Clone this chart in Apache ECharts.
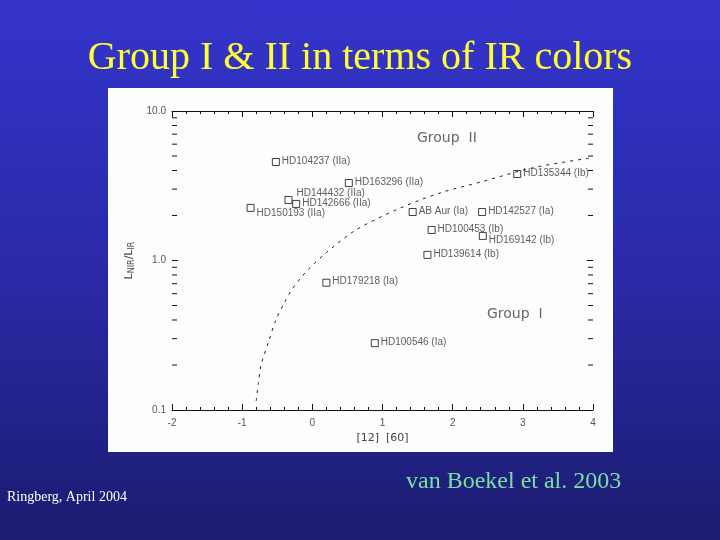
<!DOCTYPE html>
<html>
<head>
<meta charset="utf-8">
<script src="https://cdn.jsdelivr.net/npm/echarts@6/dist/echarts.min.js"></script>
<style>
html,body{margin:0;padding:0;}
body{width:720px;height:540px;background:linear-gradient(180deg,#3434cc 0%,#2a2aa8 50%,#1c1c70 100%);}
#c{width:720px;height:540px;}
</style>
</head>
<body>
<div id="c"></div>
<script>
// ---- data ----
const starNames = ["HD104237 (IIa)","HD163296 (IIa)","HD144432 (IIa)","HD142666 (IIa)","HD150193 (IIa)","AB Aur (Ia)","HD142527 (Ia)","HD135344 (Ib)","HD100453 (Ib)","HD169142 (Ib)","HD139614 (Ib)","HD179218 (Ia)","HD100546 (Ia)"];
const starColor = [-0.52, 0.52, -0.34, -0.23, -0.88, 1.43, 2.42, 2.92, 1.70, 2.43, 1.64, 0.20, 0.89];   // [12]-[60]
const starRatio = [4.56, 3.30, 2.54, 2.39, 2.25, 2.11, 2.11, 3.79, 1.60, 1.46, 1.09, 0.71, 0.28];       // L_NIR/L_IR
const curveX = [-0.80, -0.77, -0.73, -0.62, -0.52, -0.40, -0.30, -0.18, -0.07, 0.20, 0.63, 1.25, 1.82, 2.43, 3.14, 3.95];
const curveY = [0.115, 0.15, 0.20, 0.29, 0.40, 0.52, 0.63, 0.75, 0.86, 1.13, 1.61, 2.24, 2.83, 3.38, 4.17, 4.84];
const xTicks = [-2, -1, 0, 1, 2, 3, 4];
const yTicks = [0.1, 1.0, 10.0];
const yMinorTicks = [0.2, 0.3, 0.4, 0.5, 0.6, 0.7, 0.8, 0.9, 2, 3, 4, 5, 6, 7, 8, 9];

// label placement tweaks (style only)
const labelOffsets = {
  "HD144432 (IIa)": [2, -7],
  "HD150193 (IIa)": [0, 5],
  "HD169142 (Ib)": [0, 4]
};

const chart = echarts.init(document.getElementById('c'), null, {renderer:'canvas'});
const tickFont = {fontFamily:'Liberation Sans', fontSize:10, color:'#555'};

const scatterData = starNames.map((n,i)=>({
  name:n, value:[starColor[i], starRatio[i]],
  label:{offset: labelOffsets[n] || [0,-1]}
}));

const tickLine = {color:'#111', width:1};
const xMin = xTicks[0], xMax = xTicks[xTicks.length-1];

chart.setOption({
  backgroundColor:'transparent',
  animation:false,
  title:{
    text:'Group I & II in terms of IR colors',
    left:'center', top:33,
    textStyle:{fontFamily:'Liberation Serif', fontSize:40, fontWeight:'normal', color:'#ffff33'}
  },
  graphic:[
    {type:'rect', shape:{x:108,y:88,width:505,height:364}, style:{fill:'#fcfdff'}, z:-10, silent:true},
    {type:'text', left:406, top:470, style:{text:'van Boekel et al. 2003', font:'24px "Liberation Serif"', fill:'#77e0a0'}},
    {type:'text', left:7, top:490, style:{text:'Ringberg, April 2004', font:'14px "Liberation Serif"', fill:'#ffffff'}},
    {type:'text', left:417, top:131, style:{text:'Group  II', font:'14px "DejaVu Sans"', fill:'#666'}},
    {type:'text', left:487, top:307, style:{text:'Group  I', font:'14px "DejaVu Sans"', fill:'#666'}}
  ],
  grid:{left:172, right:127, top:111, bottom:130},
  xAxis:[{
    type:'value', min:xMin, max:xMax, interval:1,
    axisLine:{show:true, onZero:false, lineStyle:tickLine},
    axisTick:{show:true, inside:true, length:6, lineStyle:tickLine},
    minorTick:{show:true, splitNumber:5, length:3, lineStyle:tickLine},
    splitLine:{show:false},
    axisLabel:Object.assign({margin:8}, tickFont),
    name:'[12]  [60]', nameLocation:'middle', nameGap:22,
    nameTextStyle:{fontFamily:'DejaVu Sans', fontSize:11, color:'#444'}
  },{
    type:'value', position:'top', min:xMin, max:xMax, interval:1,
    axisLine:{show:true, onZero:false, lineStyle:tickLine},
    axisTick:{show:true, inside:true, length:6, lineStyle:tickLine},
    minorTick:{show:true, splitNumber:5, length:3, lineStyle:tickLine},
    splitLine:{show:false}, axisLabel:{show:false}
  }],
  yAxis:[{
    type:'log', logBase:10, min:yTicks[0], max:yTicks[yTicks.length-1],
    axisLine:{show:false, onZero:false},
    axisTick:{show:true, inside:true, length:6, lineStyle:tickLine},
    minorTick:{show:false},
    splitLine:{show:false},
    axisLabel:Object.assign({margin:6, formatter:v=>Number(v).toFixed(1)}, tickFont),
    name:'{n|L}{s|NIR}{n|/L}{s|IR}', nameLocation:'middle', nameGap:30, nameRotate:90,
    nameTextStyle:{rich:{
      n:{fontFamily:'DejaVu Sans', fontSize:11, color:'#444'},
      s:{fontFamily:'DejaVu Sans', fontSize:8, color:'#444', verticalAlign:'bottom', padding:[4,0,0,0]}
    }}
  },{
    type:'log', logBase:10, position:'right', min:yTicks[0], max:yTicks[yTicks.length-1],
    axisLine:{show:false, onZero:false},
    axisTick:{show:true, inside:true, length:6, lineStyle:tickLine},
    minorTick:{show:false},
    splitLine:{show:false}, axisLabel:{show:false}
  }],
  series:[{
    // log-spaced minor ticks on left and right edges, placed through the axis scale
    type:'custom', xAxisIndex:0, yAxisIndex:0, silent:true, clip:false,
    data:yMinorTicks.map(v=>[xMin, v]),
    renderItem:function(params, api){
      const pL = api.coord([xMin, api.value(1)]);
      const pR = api.coord([xMax, api.value(1)]);
      return {type:'group', children:[
        {type:'line', shape:{x1:pL[0], y1:pL[1], x2:pL[0]+5, y2:pL[1]}, style:{stroke:'#111', lineWidth:1}},
        {type:'line', shape:{x1:pR[0]-5, y1:pR[1], x2:pR[0], y2:pR[1]}, style:{stroke:'#111', lineWidth:1}}
      ]};
    }
  },{
    type:'line', xAxisIndex:0, yAxisIndex:0,
    data:curveX.map((x,i)=>[x,curveY[i]]),
    smooth:0.3, showSymbol:false, symbol:'none',
    lineStyle:{color:'#222', width:1, type:[3,5]}
  },{
    type:'scatter', xAxisIndex:0, yAxisIndex:0,
    data:scatterData,
    symbol:'rect', symbolSize:7,
    itemStyle:{color:'#fff', borderColor:'#111', borderWidth:1},
    label:{show:true, position:'right', distance:2, formatter:p=>p.name,
      fontFamily:'Liberation Sans', fontSize:10, color:'#333'}
  }]
});
</script>
</body>
</html>
